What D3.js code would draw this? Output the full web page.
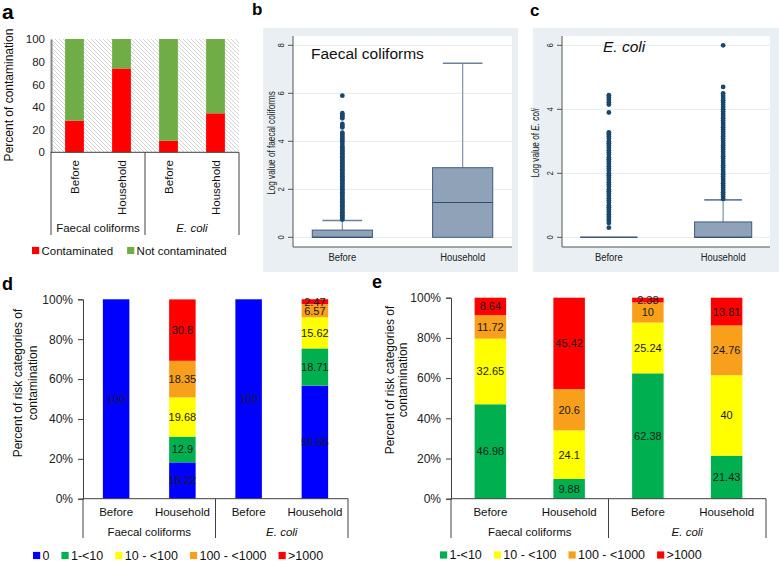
<!DOCTYPE html>
<html><head><meta charset="utf-8">
<script src="https://cdn.jsdelivr.net/npm/d3@7"></script>
<style>body{margin:0;background:#fff}svg{display:block;font-family:"Liberation Sans",Arial,sans-serif}</style>
</head><body><svg id="chart" width="779" height="562"></svg>
<script>
// ---------- data ----------
const barCategories = ["Before", "Household", "Before", "Household"];
const groupLabels = ["Faecal coliforms", "E. coli"];
const contaminated = [28, 74, 10.3, 34.4];
const notContaminated = [72, 26, 89.7, 65.6];
const legendA = ["Contaminated", "Not contaminated"];
const percentTicksA = [0, 20, 40, 60, 80, 100];
const percentTicks = [0, 20, 40, 60, 80, 100];

const boxCategories = ["Before", "Household"];
const fcQ1 = [0, 0], fcMedian = [0, 1.45], fcQ3 = [0.3, 2.9], fcWhiskerHigh = [0.7, 7.25];
const fcBeforeOutliers = [0.74,0.8,0.86,0.92,0.98,1.04,1.1,1.16,1.22,1.28,1.34,1.4,1.46,1.52,1.58,1.64,1.7,1.76,1.82,1.88,1.94,2.0,2.06,2.12,2.18,2.24,2.3,2.36,2.42,2.48,2.54,2.6,2.66,2.72,2.78,2.84,2.9,2.96,3.02,3.08,3.14,3.2,3.26,3.32,3.38,3.44,3.5,3.56,3.62,3.68,3.74,3.8,3.9,4.0,4.08,4.15,4.22,4.3,4.36,4.58,4.65,4.72,4.96,5.04,5.1,5.17,5.9];
const fcHouseholdOutliers = [];
const fcTicks = [0, 2, 4, 6, 8];
const ecQ1 = [0, 0], ecMedian = [0, 0], ecQ3 = [0, 0.48], ecWhiskerHigh = [0, 1.17];
const ecBeforeOutliers = [0.3,0.45,0.52,0.58,0.65,0.72,0.8,0.87,0.94,1.0,1.08,1.15,1.22,1.3,1.37,1.44,1.5,1.58,1.65,1.72,1.8,1.87,1.94,2.0,2.08,2.15,2.22,2.3,2.37,2.44,2.5,2.58,2.65,2.72,2.8,2.87,2.94,3.0,3.08,3.15,3.22,3.28,3.9,4.15,4.22,4.3,4.37,4.44];
const ecHouseholdOutliers = [1.2,1.27,1.34,1.41,1.48,1.55,1.62,1.69,1.76,1.83,1.9,1.97,2.04,2.11,2.18,2.25,2.32,2.39,2.46,2.53,2.6,2.67,2.74,2.81,2.88,2.95,3.02,3.09,3.16,3.23,3.3,3.37,3.44,3.51,3.58,3.65,3.72,3.79,3.86,3.93,4.0,4.07,4.14,4.21,4.28,4.35,4.42,4.5,4.7,6.0];
const ecTicks = [0, 2, 4, 6];

const riskCatsD = ["0", "1-<10", "10 - <100", "100 - <1000", ">1000"];
const dZero = [100, 18.22, 100, 56.66];
const dOne = [0, 12.9, 0, 18.71];
const dTen = [0, 19.68, 0, 15.62];
const dHundred = [0, 18.35, 0, 6.57];
const dThousand = [0, 30.8, 0, 2.47];

const riskCatsE = ["1-<10", "10 - <100", "100 - <1000", ">1000"];
const eOne = [46.98, 9.88, 62.38, 21.43];
const eTen = [32.65, 24.1, 25.24, 40];
const eHundred = [11.72, 20.6, 10, 24.76];
const eThousand = [8.64, 45.42, 2.38, 13.81];

// ---------- drawing ----------
const svg = d3.select("#chart");
const AXC = "#404040";
const NARROW_SCALE = 0.82;

const defs = svg.append("defs");
const pat = defs.append("pattern").attr("id", "hatch").attr("patternUnits", "userSpaceOnUse")
  .attr("width", 4).attr("height", 4);
pat.append("rect").attr("width", 4).attr("height", 4).attr("fill", "#fff");
pat.append("path").attr("d", "M0,0L4,4M-1,3L1,5M3,-1L5,1").attr("stroke", "#cfcfcf").attr("stroke-width", 0.9);

function letter(t, x, y, size) {
  svg.append("text").attr("x", x).attr("y", y).attr("font-weight", "bold")
    .attr("font-size", size).attr("fill", "#000").text(t);
}

function groupText(sel, txt) {
  sel.text(txt).attr("font-style", txt === "E. coli" ? "italic" : null);
}

function stackedPanel(cfg) {
  const g = svg.append("g");
  const x = d3.scaleBand().domain(d3.range(barCategories.length)).range([cfg.left, cfg.right])
    .paddingInner(0.6).paddingOuter(0.3);
  const y = d3.scaleLinear().domain([0, 100]).range([cfg.bottom, cfg.top]);
  const keys = cfg.series.map((s, i) => "k" + i);
  const rows = barCategories.map((c, j) => {
    const o = { idx: j };
    cfg.series.forEach((s, i) => o["k" + i] = s[j]);
    return o;
  });
  const layers = d3.stack().keys(keys)(rows);
  if (cfg.hatch) {
    g.append("rect").attr("x", cfg.left).attr("y", cfg.top).attr("width", cfg.right - cfg.left)
      .attr("height", cfg.bottom - cfg.top).attr("fill", "url(#hatch)");
  }
  layers.forEach((layer, i) => {
    g.selectAll(null).data(layer.filter(d => d[1] - d[0] > 0)).join("rect")
      .attr("x", d => x(d.data.idx)).attr("width", x.bandwidth())
      .attr("y", d => y(d[1])).attr("height", d => y(d[0]) - y(d[1]))
      .attr("fill", cfg.colors[i]);
  });
  if (cfg.labels) {
    layers.forEach((layer, i) => {
      g.selectAll(null).data(layer.filter(d => d[1] - d[0] > 0)).join("text")
        .attr("x", d => x(d.data.idx) + x.bandwidth() / 2)
        .attr("y", d => y((d[0] + d[1]) / 2)).attr("dy", "0.36em")
        .attr("text-anchor", "middle").attr("font-size", 11).attr("fill", "#1a1a1a")
        .text(d => d.data["k" + i]);
    });
  }
  // y axis
  const ya = d3.axisLeft(y).tickValues(cfg.ticks).tickFormat(cfg.fmt)
    .tickSize(cfg.tickSize).tickPadding(cfg.tickPad);
  const yg = g.append("g").attr("transform", `translate(${cfg.left},0)`).call(ya);
  yg.select(".domain").attr("stroke", cfg.domainColor || AXC).attr("stroke-width", cfg.domainWidth || 1);
  yg.selectAll(".tick line").attr("stroke", AXC);
  yg.selectAll("text").attr("font-size", cfg.tickFont).attr("fill", "#222")
    .attr("font-family", '"Liberation Sans",Arial,sans-serif');
  // category axis
  const mid = (x(1) + x.bandwidth() + x(2)) / 2;
  g.append("line").attr("x1", cfg.left).attr("x2", cfg.right).attr("y1", cfg.bottom).attr("y2", cfg.bottom)
    .attr("stroke", AXC);
  [cfg.left, mid, cfg.right].forEach(xx => g.append("line").attr("x1", xx).attr("x2", xx)
    .attr("y1", cfg.bottom).attr("y2", cfg.sepBottom).attr("stroke", AXC));
  barCategories.forEach((c, j) => {
    const cx = x(j) + x.bandwidth() / 2;
    if (cfg.rotated) {
      g.append("text").attr("transform", `translate(${cx + 4},${cfg.catY}) rotate(-90)`)
        .attr("text-anchor", "end").attr("font-size", 11.5).attr("fill", "#111").text(c);
    } else {
      g.append("text").attr("x", cx).attr("y", cfg.catY).attr("text-anchor", "middle")
        .attr("font-size", 11.5).attr("fill", "#111").text(c);
    }
  });
  groupLabels.forEach((gl, k) => {
    const gx = k === 0 ? (cfg.left + mid) / 2 : (mid + cfg.right) / 2;
    groupText(g.append("text").attr("x", gx).attr("y", cfg.groupY).attr("text-anchor", "middle")
      .attr("font-size", 11.5).attr("fill", "#111"), gl);
  });
  // y label
  cfg.ylabel.forEach((line, k) => {
    g.append("text").attr("transform", `translate(${cfg.ylabelX[k]},${cfg.ylabelY}) rotate(-90)`)
      .attr("text-anchor", "middle").attr("font-size", cfg.ylabelFont).attr("fill", "#111").text(line);
  });
  // legend
  let lx = cfg.legendX;
  cfg.legend.forEach((name, i) => {
    g.append("rect").attr("x", lx).attr("y", cfg.legendY - 3.6).attr("width", 7.2).attr("height", 7.2)
      .attr("fill", cfg.colors[i]);
    const t = g.append("text").attr("x", lx + 9.5).attr("y", cfg.legendY).attr("dy", "0.35em")
      .attr("font-size", cfg.legendFont).attr("fill", "#111").text(name);
    lx += 9.5 + t.node().getComputedTextLength() + cfg.legendGap;
  });
}

function boxPanel(cfg) {
  const g = svg.append("g");
  g.append("rect").attr("x", cfg.bgX0).attr("y", cfg.bgY0).attr("width", cfg.bgX1 - cfg.bgX0)
    .attr("height", cfg.bgY1 - cfg.bgY0).attr("fill", "#e9eff2");
  g.append("rect").attr("x", cfg.left).attr("y", cfg.top).attr("width", cfg.right - cfg.left)
    .attr("height", cfg.bottom - cfg.top).attr("fill", "#fff");
  const x = d3.scalePoint().domain(boxCategories).range([cfg.left, cfg.right]).padding(0.41);
  const y = d3.scaleLinear().domain(cfg.domain).range([cfg.y0, cfg.yMaxPx]);
  const step = x.step();
  // grid
  g.selectAll(null).data(cfg.ticks).join("line").attr("x1", cfg.left).attr("x2", cfg.right)
    .attr("y1", d => y(d)).attr("y2", d => y(d)).attr("stroke", "#e4edf0").attr("stroke-width", 1);
  // axes
  g.append("line").attr("x1", cfg.left).attr("x2", cfg.left).attr("y1", cfg.top).attr("y2", cfg.bottom)
    .attr("stroke", "#555");
  g.append("line").attr("x1", cfg.left).attr("x2", cfg.right).attr("y1", cfg.bottom).attr("y2", cfg.bottom)
    .attr("stroke", "#555");
  g.selectAll(null).data(cfg.ticks).join("line").attr("x1", cfg.left - 5).attr("x2", cfg.left)
    .attr("y1", d => y(d)).attr("y2", d => y(d)).attr("stroke", "#555");
  g.selectAll(null).data(cfg.ticks).join("text")
    .attr("transform", d => `translate(${cfg.left - 9},${y(d)}) rotate(-90) scale(${NARROW_SCALE},1)`)
    .attr("text-anchor", "middle").attr("font-size", 9.5).attr("fill", "#222").text(d => d);
  boxCategories.forEach(c => {
    g.append("text").attr("transform", `translate(${x(c)},${cfg.bottom + 14}) scale(${NARROW_SCALE},1)`)
      .attr("text-anchor", "middle").attr("font-size", 11.5).attr("fill", "#222").text(c);
  });
  // boxes
  const bw = step * 0.5, cw = step * 0.33;
  boxCategories.forEach((c, i) => {
    const cx = x(c);
    if (cfg.hi[i] > cfg.q3[i]) {
      g.append("line").attr("x1", cx).attr("x2", cx).attr("y1", y(cfg.q3[i])).attr("y2", y(cfg.hi[i]))
        .attr("stroke", "#7d93ab").attr("stroke-width", 1.2);
      g.append("line").attr("x1", cx - cw / 2).attr("x2", cx + cw / 2).attr("y1", y(cfg.hi[i])).attr("y2", y(cfg.hi[i]))
        .attr("stroke", "#6a819b").attr("stroke-width", 1.6);
    }
    g.append("rect").attr("x", cx - bw / 2).attr("width", bw)
      .attr("y", y(cfg.q3[i])).attr("height", Math.max(0, y(cfg.q1[i]) - y(cfg.q3[i])))
      .attr("fill", "#8fa2b8").attr("stroke", "#3e5c7d").attr("stroke-width", 1);
    if (cfg.q3[i] === cfg.q1[i]) {
      g.append("line").attr("x1", cx - bw / 2).attr("x2", cx + bw / 2).attr("y1", y(cfg.q1[i])).attr("y2", y(cfg.q1[i]))
        .attr("stroke", "#6a819b").attr("stroke-width", 1.6);
    }
    g.append("line").attr("x1", cx - bw / 2).attr("x2", cx + bw / 2).attr("y1", y(cfg.med[i])).attr("y2", y(cfg.med[i]))
      .attr("stroke", "#2f4d6e").attr("stroke-width", 1.1);
    g.selectAll(null).data(cfg.outliers[i]).join("circle")
      .attr("cx", cx).attr("cy", d => y(d)).attr("r", 2.4).attr("fill", "#1a476f");
  });
  // title
  const t = g.append("text").attr("x", cfg.titleX).attr("y", cfg.titleY).attr("font-size", 15.5).attr("fill", "#111")
    .text(cfg.title);
  if (cfg.titleItalic) t.attr("font-style", "italic");
  // y label
  const yl = g.append("text")
    .attr("transform", `translate(${cfg.ylabelX},${cfg.ylabelY}) rotate(-90) scale(${NARROW_SCALE},1)`)
    .attr("text-anchor", "middle").attr("font-size", 10).attr("fill", "#222");
  cfg.ylabel.forEach(part => yl.append("tspan").attr("font-style", part.it ? "italic" : null).text(part.t));
}

// ---- panel a ----
stackedPanel({
  left: 51, right: 239, top: 39, bottom: 152.3, sepBottom: 235,
  series: [contaminated, notContaminated], colors: ["#ff0000", "#70ad47"],
  hatch: true, labels: false, ticks: percentTicksA, fmt: d => d, tickSize: 0, tickPad: 6, tickFont: 11.5,
  domainColor: "#888", domainWidth: 2,
  rotated: true, catY: 160, groupY: 232,
  ylabel: ["Percent of contamination"], ylabelX: [13], ylabelY: 95, ylabelFont: 12,
  legend: legendA, legendX: 32, legendY: 250.5, legendFont: 11.5, legendGap: 14
});
letter("a", 2, 19, 21);

// ---- panel b ----
boxPanel({
  bgX0: 263, bgX1: 518, bgY0: 28, bgY1: 272,
  left: 293, right: 512, top: 36, bottom: 247,
  domain: [0, 8], y0: 237.3, yMaxPx: 45.3, ticks: fcTicks,
  q1: fcQ1, med: fcMedian, q3: fcQ3, hi: fcWhiskerHigh, outliers: [fcBeforeOutliers, fcHouseholdOutliers],
  title: "Faecal coliforms", titleX: 311, titleY: 59,
  ylabel: [{ t: "Log value of faecal coliforms" }], ylabelX: 275, ylabelY: 143
});
letter("b", 252, 15, 17);

// ---- panel c ----
boxPanel({
  bgX0: 533, bgX1: 779, bgY0: 28, bgY1: 272,
  left: 562, right: 770, top: 36, bottom: 247,
  domain: [0, 6], y0: 237.3, yMaxPx: 45.3, ticks: ecTicks,
  q1: ecQ1, med: ecMedian, q3: ecQ3, hi: ecWhiskerHigh, outliers: [ecBeforeOutliers, ecHouseholdOutliers],
  title: "E. coli", titleItalic: true, titleX: 603, titleY: 52,
  ylabel: [{ t: "Log value of " }, { t: "E. coli", it: true }], ylabelX: 539, ylabelY: 143
});
letter("c", 530, 16, 17);

// ---- panel d ----
stackedPanel({
  left: 83, right: 348, top: 299.3, bottom: 498.7, sepBottom: 538,
  series: [dZero, dOne, dTen, dHundred, dThousand],
  colors: ["#0000ff", "#00b050", "#ffff00", "#f8a01c", "#ff0000"],
  labels: true, ticks: percentTicks, fmt: d => d + "%", tickSize: 5, tickPad: 5, tickFont: 12,
  rotated: false, catY: 516, groupY: 536,
  ylabel: ["Percent of risk categories of", "contamination"], ylabelX: [22, 37], ylabelY: 383, ylabelFont: 12,
  legend: riskCatsD, legendX: 33, legendY: 555.5, legendFont: 12.5, legendGap: 12
});
letter("d", 2, 290, 18);

// ---- panel e ----
stackedPanel({
  left: 451, right: 766, top: 297.7, bottom: 498.7, sepBottom: 538,
  series: [eOne, eTen, eHundred, eThousand],
  colors: ["#00b050", "#ffff00", "#f8a01c", "#ff0000"],
  labels: true, ticks: percentTicks, fmt: d => d + "%", tickSize: 5, tickPad: 5, tickFont: 12,
  rotated: false, catY: 516, groupY: 536,
  ylabel: ["Percent of risk categories of", "contamination"], ylabelX: [394, 407], ylabelY: 380, ylabelFont: 12,
  legend: riskCatsE, legendX: 440, legendY: 555, legendFont: 12.5, legendGap: 12
});
letter("e", 372, 288, 18);
</script></body></html>
